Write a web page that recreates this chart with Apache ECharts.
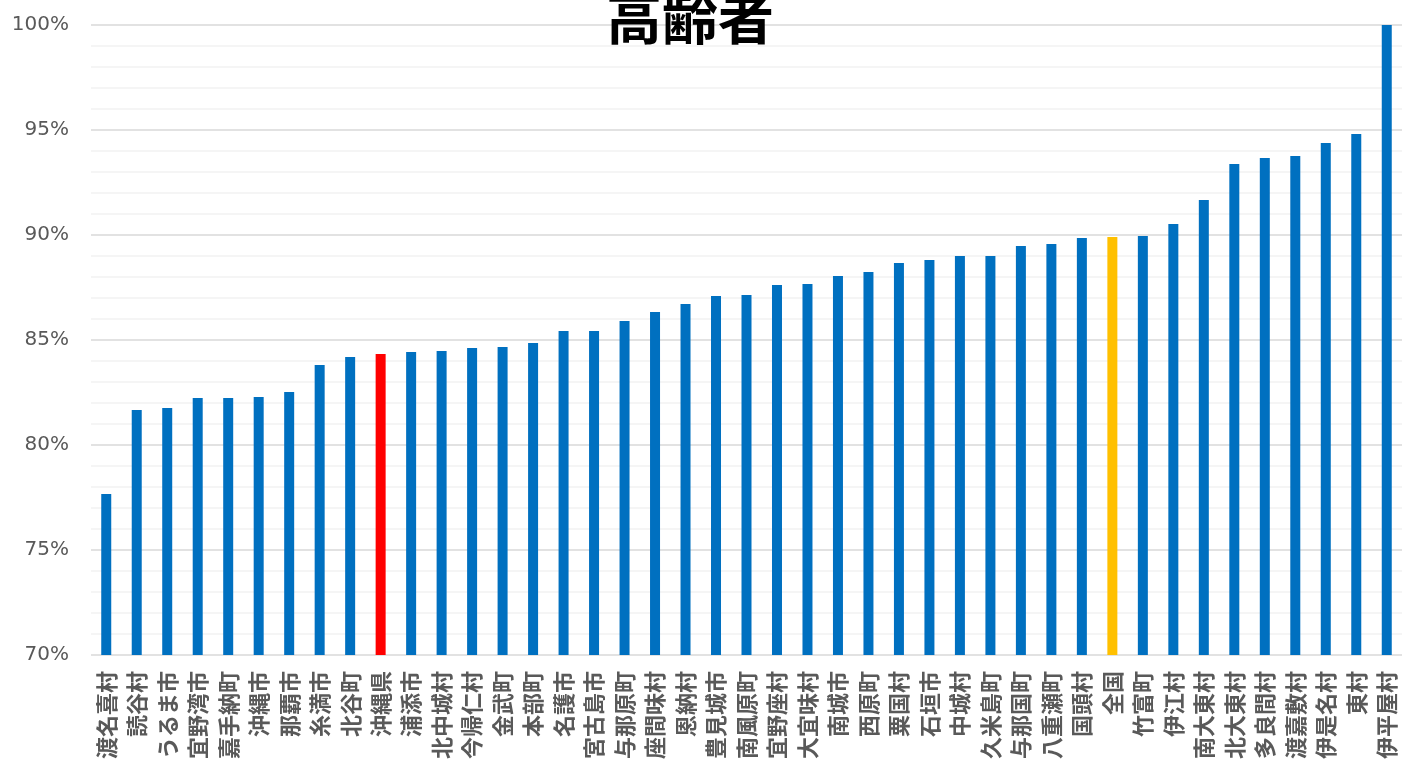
<!DOCTYPE html>
<html>
<head>
<meta charset="utf-8">
<script src="https://cdn.jsdelivr.net/npm/echarts@6/dist/echarts.min.js"></script>
<style>html,body{margin:0;padding:0;background:#fff;}#c{width:1402px;height:769px;}</style>
</head>
<body>
<div id="c"></div>
<script>
const categories = ["渡名喜村","読谷村","うるま市","宜野湾市","嘉手納町","沖縄市","那覇市","糸満市","北谷町","沖縄県","浦添市","北中城村","今帰仁村","金武町","本部町","名護市","宮古島市","与那原町","座間味村","恩納村","豊見城市","南風原町","宜野座村","大宜味村","南城市","西原町","粟国村","石垣市","中城村","久米島町","与那国町","八重瀬町","国頭村","全国","竹富町","伊江村","南大東村","北大東村","多良間村","渡嘉敷村","伊是名村","東村","伊平屋村"];
const values = [77.67,81.67,81.76,82.24,82.24,82.29,82.52,83.81,84.19,84.33,84.43,84.48,84.62,84.67,84.86,85.43,85.43,85.90,86.33,86.71,87.10,87.14,87.62,87.67,88.05,88.24,88.67,88.81,89.00,89.00,89.48,89.57,89.86,89.90,89.95,90.52,91.67,93.38,93.67,93.76,94.38,94.81,100.0];
const highlightRed = ["沖縄県"];
const highlightYellow = ["全国"];
const titleText = "高齢者";

const chart = echarts.init(document.getElementById('c'));
const data = values.map((v, i) => {
  const name = categories[i];
  let color = '#0070C0';
  if (highlightRed.includes(name)) color = '#FF0000';
  if (highlightYellow.includes(name)) color = '#FFC000';
  return { value: v, itemStyle: { color } };
});
chart.setOption({
  animation: false,
  title: {
    text: titleText,
    left: 601,
    top: -15,
    textStyle: { fontFamily: 'Noto Sans CJK JP', fontWeight: 'bold', fontSize: 56, color: '#000' }
  },
  grid: { left: 91, width: 1314, top: 25, bottom: 114, containLabel: false },
  xAxis: {
    type: 'category',
    data: categories,
    axisLine: { show: false },
    axisTick: { show: false },
    axisLabel: {
      interval: 0, rotate: 90, margin: 16,
      fontFamily: 'Noto Sans CJK JP', fontWeight: 'bold', fontSize: 22, color: '#595959'
    }
  },
  yAxis: {
    type: 'value', min: 70, max: 100, interval: 5,
    axisLine: { show: false }, axisTick: { show: false },
    axisLabel: { formatter: '{value}%', margin: 22, fontFamily: 'DejaVu Sans', fontSize: 20, color: '#595959' },
    splitLine: { show: true, lineStyle: { color: '#d9d9d9', width: 1.5 } },
    minorTick: { show: false, splitNumber: 5 },
    minorSplitLine: { show: true, lineStyle: { color: '#f2f2f2', width: 1.5 } }
  },
  series: [{
    type: 'bar', data: data, barWidth: 10
  }]
});
</script>
</body>
</html>
